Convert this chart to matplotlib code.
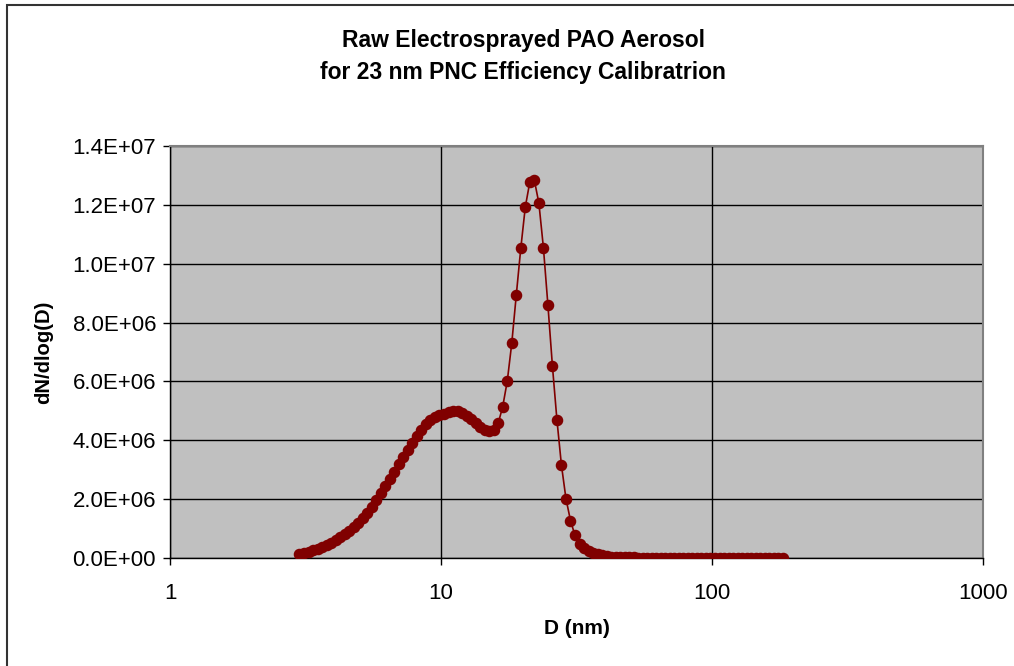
import matplotlib
matplotlib.use('Agg')
import matplotlib.pyplot as plt
from matplotlib.patches import Rectangle
from matplotlib.ticker import FixedLocator, FuncFormatter, NullLocator

plt.rcParams['font.family'] = ['Liberation Sans', 'DejaVu Sans']

# Particle diameter (nm) of each channel
diameter = [
    3.005, 3.123, 3.245, 3.372, 3.504, 3.640, 3.783, 3.931, 4.084, 4.244,
    4.410, 4.582, 4.761, 4.948, 5.141, 5.342, 5.551, 5.768, 5.993, 6.228,
    6.471, 6.724, 6.987, 7.260, 7.544, 7.839, 8.146, 8.464, 8.795, 9.139,
    9.496, 9.867, 10.26, 10.66, 11.07, 11.51, 11.96, 12.43, 12.91, 13.42,
    13.94, 14.49, 15.06, 15.64, 16.26, 16.89, 17.56, 18.24, 18.96, 19.70,
    20.47, 21.27, 22.10, 22.97, 23.87, 24.80, 25.77, 26.78, 27.82, 28.91,
    30.05, 31.22, 32.44, 33.71, 35.03, 36.40, 37.83, 39.31, 40.84, 42.44,
    44.10, 45.82, 47.61, 49.48, 51.41, 53.42, 55.51, 57.68, 59.93, 62.28,
    64.71, 67.24, 69.87, 72.60, 75.44, 78.39, 81.46, 84.64, 87.95, 91.39,
    94.96, 98.67, 102.6, 106.6, 110.7, 115.1, 119.6, 124.3, 129.1, 134.2,
    139.4, 144.9, 150.6, 156.4, 162.6, 168.9, 175.6, 182.4,
]

# dN/dlog(D) in millions
dndlogd_e6 = [
    0.12, 0.16, 0.21, 0.26, 0.31, 0.37, 0.44, 0.52, 0.61, 0.70,
    0.81, 0.93, 1.06, 1.20, 1.35, 1.53, 1.74, 1.97, 2.21, 2.44,
    2.67, 2.92, 3.18, 3.44, 3.68, 3.91, 4.13, 4.35, 4.55, 4.69,
    4.79, 4.86, 4.91, 4.96, 5.00, 4.98, 4.92, 4.82, 4.71, 4.58,
    4.46, 4.36, 4.32, 4.36, 4.58, 5.14, 6.01, 7.29, 8.94, 10.53,
    11.93, 12.78, 12.84, 12.06, 10.55, 8.60, 6.53, 4.69, 3.16, 2.02,
    1.27, 0.77, 0.49, 0.33, 0.23, 0.16, 0.12, 0.09, 0.07, 0.05,
    0.04, 0.03, 0.03, 0.02, 0.02, 0.01, 0.01, 0.01, 0.01, 0.01,
    0.01, 0.01, 0.01, 0.01, 0.01, 0.01, 0.005, 0.005, 0.005, 0.005,
    0.005, 0.0, 0.0, 0.0, 0.0, 0.0, 0.0, 0.0, 0.0, 0.0,
    0.0, 0.0, 0.0, 0.0, 0.0, 0.0, 0.0, 0.0,
]
dndlogd = [v * 1e6 for v in dndlogd_e6]

x_ticks = [1, 10, 100, 1000]
y_ticks = [0, 2e6, 4e6, 6e6, 8e6, 10e6, 12e6, 14e6]

W, H = 1014, 666
fig = plt.figure(figsize=(W / 100, H / 100), dpi=100)
fig.patch.set_facecolor('white')

# chart frame
fig.patches.append(Rectangle((7 / W, -0.05), 1.2, 1 - 5 / H + 0.05,
                             transform=fig.transFigure, fill=False,
                             edgecolor='#333333', linewidth=1.5))

ax = fig.add_axes([170 / W, 1 - 558 / H, (983 - 170) / W, (558 - 146) / H])
ax.set_facecolor('#C0C0C0')

ax.plot(diameter, dndlogd, color='#800000', linewidth=1.2,
        marker='o', markersize=7.3, markerfacecolor='#800000',
        markeredgecolor='#800000', zorder=3)

ax.set_xscale('log')
ax.set_xlim(1, 1000)
ax.set_ylim(0, 1.4e7)
ax.xaxis.set_major_locator(FixedLocator(x_ticks))
ax.xaxis.set_minor_locator(NullLocator())
ax.xaxis.set_major_formatter(FuncFormatter(lambda v, p: '%d' % v))
ax.yaxis.set_major_locator(FixedLocator(y_ticks))
ax.yaxis.set_major_formatter(FuncFormatter(
    lambda v, p: '%.1E' % v if v else '0.0E+00'))

ax.grid(True, color='black', linewidth=1.0)
ax.set_axisbelow(True)
for side in ['top', 'right']:
    ax.spines[side].set_color('#808080')
    ax.spines[side].set_linewidth(1.5)
for side in ['left', 'bottom']:
    ax.spines[side].set_color('black')
    ax.spines[side].set_linewidth(1.0)

ax.tick_params(axis='both', direction='out', length=5, width=1,
               labelsize=16, colors='black')
ax.tick_params(axis='x', pad=13)
ax.tick_params(axis='y', pad=5)

ax.set_xlabel('D (nm)', fontsize=15, fontweight='bold', labelpad=11)
ax.set_ylabel('dN/dlog(D)', fontsize=14.6, fontweight='bold', labelpad=14)

fig.text(523 / W, 1 - 41 / H, 'Raw Electrosprayed PAO Aerosol',
         ha='center', va='center', fontsize=16.5, fontweight='bold')
fig.text(523 / W, 1 - 73 / H, 'for 23 nm PNC Efficiency Calibratrion',
         ha='center', va='center', fontsize=16.5, fontweight='bold')

fig.savefig('out.png', dpi=100)
